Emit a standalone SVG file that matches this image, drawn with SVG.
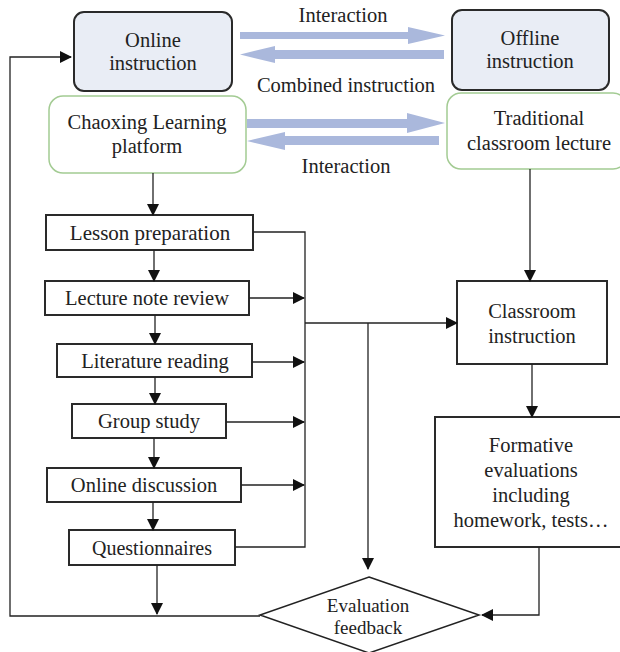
<svg xmlns="http://www.w3.org/2000/svg" width="620" height="652" viewBox="0 0 620 652">
<defs>
<marker id="ah" markerWidth="12" markerHeight="12" viewBox="0 0 12 12" refX="11" refY="6" orient="auto" markerUnits="userSpaceOnUse">
<path d="M0,0 L12,6 L0,12 Z" fill="#111"/>
</marker>
<style>
.blue{fill:#e9edf5;stroke:#2a2a2a;stroke-width:2}
.green{fill:#fff;stroke:#a3cb93;stroke-width:1.5}
.box{fill:#fff;stroke:#2a2a2a;stroke-width:2}
.ln{fill:none;stroke:#222;stroke-width:1.3}
.arr{marker-end:url(#ah)}
.fat{fill:#aab8dc}
</style>
</defs>
<rect width="620" height="652" fill="#fff"/>
<g font-family="'Liberation Serif', 'Times New Roman', serif" font-size="20.5" fill="#222" text-anchor="middle">
<g id="online"><rect class="blue" x="74" y="12" width="158" height="79" rx="10"/><text x="153" y="47">Online</text><text x="153" y="70">instruction</text></g>
<g id="offline"><rect class="blue" x="452" y="10" width="157" height="80" rx="10"/><text x="530" y="45">Offline</text><text x="530" y="68">instruction</text></g>
<g id="chaoxing"><rect class="green" x="49" y="96" width="197" height="77" rx="14"/><text x="147" y="129">Chaoxing Learning</text><text x="147" y="153">platform</text></g>
<g id="traditional"><rect class="green" x="447" y="93" width="180" height="76" rx="14"/><text x="539" y="125">Traditional</text><text x="539" y="150">classroom lecture</text></g>
<g id="lesson"><rect class="box" x="46" y="215" width="207" height="35"/><text x="150" y="240" font-size="21">Lesson preparation</text></g>
<g id="lecture"><rect class="box" x="45" y="281" width="204" height="34"/><text x="147" y="305">Lecture note review</text></g>
<g id="literature"><rect class="box" x="57" y="344" width="195" height="33"/><text x="155" y="368">Literature reading</text></g>
<g id="group"><rect class="box" x="72" y="404" width="154" height="34"/><text x="149" y="428">Group study</text></g>
<g id="discussion"><rect class="box" x="47" y="468" width="194" height="34"/><text x="144" y="492">Online discussion</text></g>
<g id="questionnaires"><rect class="box" x="69" y="530" width="166" height="35"/><text x="152" y="555" font-size="20">Questionnaires</text></g>
<g id="classroom"><rect class="box" x="457" y="281" width="150" height="83"/><text x="532" y="318">Classroom</text><text x="532" y="343">instruction</text></g>
<g id="formative"><rect class="box" x="435" y="417" width="190" height="130"/><text x="531" y="452">Formative</text><text x="531" y="477">evaluations</text><text x="531" y="502">including</text><text x="531" y="527">homework, tests…</text></g>
<g id="feedback"><polygon points="369,577 479,615 369,653 260,615" fill="#fff" stroke="#222" stroke-width="1.5"/><text x="368" y="612" font-size="19">Evaluation</text><text x="368" y="634" font-size="19">feedback</text></g>
<g id="connectors">
<polygon class="fat" points="240,32 408,32 408,27 445,35.5 408,44 408,39 240,39"/>
<polygon class="fat" points="444,50 275,50 275,46 240,54.5 275,63 275,59 444,59"/>
<polygon class="fat" points="247,119 407,119 407,113 445,123 407,133 407,128 247,128"/>
<polygon class="fat" points="439,136 285,136 285,132 247,141 285,150 285,145 439,145"/>
<text x="343" y="22">Interaction</text>
<text x="346" y="92">Combined instruction</text>
<text x="346" y="173">Interaction</text>
<line class="ln arr" x1="153" y1="173" x2="153" y2="215"/>
<line class="ln arr" x1="154" y1="250" x2="154" y2="281"/>
<line class="ln arr" x1="155" y1="315" x2="155" y2="344"/>
<line class="ln arr" x1="155" y1="377" x2="155" y2="404"/>
<line class="ln arr" x1="154" y1="438" x2="154" y2="468"/>
<line class="ln arr" x1="153" y1="502" x2="153" y2="530"/>
<line class="ln arr" x1="157" y1="565" x2="157" y2="614"/>
<polyline class="ln" points="253,232 305,232 305,547 235,547"/>
<line class="ln arr" x1="249" y1="298" x2="304" y2="298"/>
<line class="ln arr" x1="252" y1="362" x2="304" y2="362"/>
<line class="ln arr" x1="226" y1="422" x2="304" y2="422"/>
<line class="ln arr" x1="241" y1="485" x2="304" y2="485"/>
<line class="ln arr" x1="305" y1="323" x2="457" y2="323"/>
<line class="ln arr" x1="368" y1="323" x2="368" y2="569"/>
<line class="ln arr" x1="530" y1="169" x2="530" y2="281"/>
<line class="ln arr" x1="532" y1="364" x2="532" y2="417"/>
<polyline class="ln arr" points="539,547 539,615 482,615"/>
<polyline class="ln arr" points="260,616 10,616 10,57 71,57"/>
</g>
</g>
</svg>
